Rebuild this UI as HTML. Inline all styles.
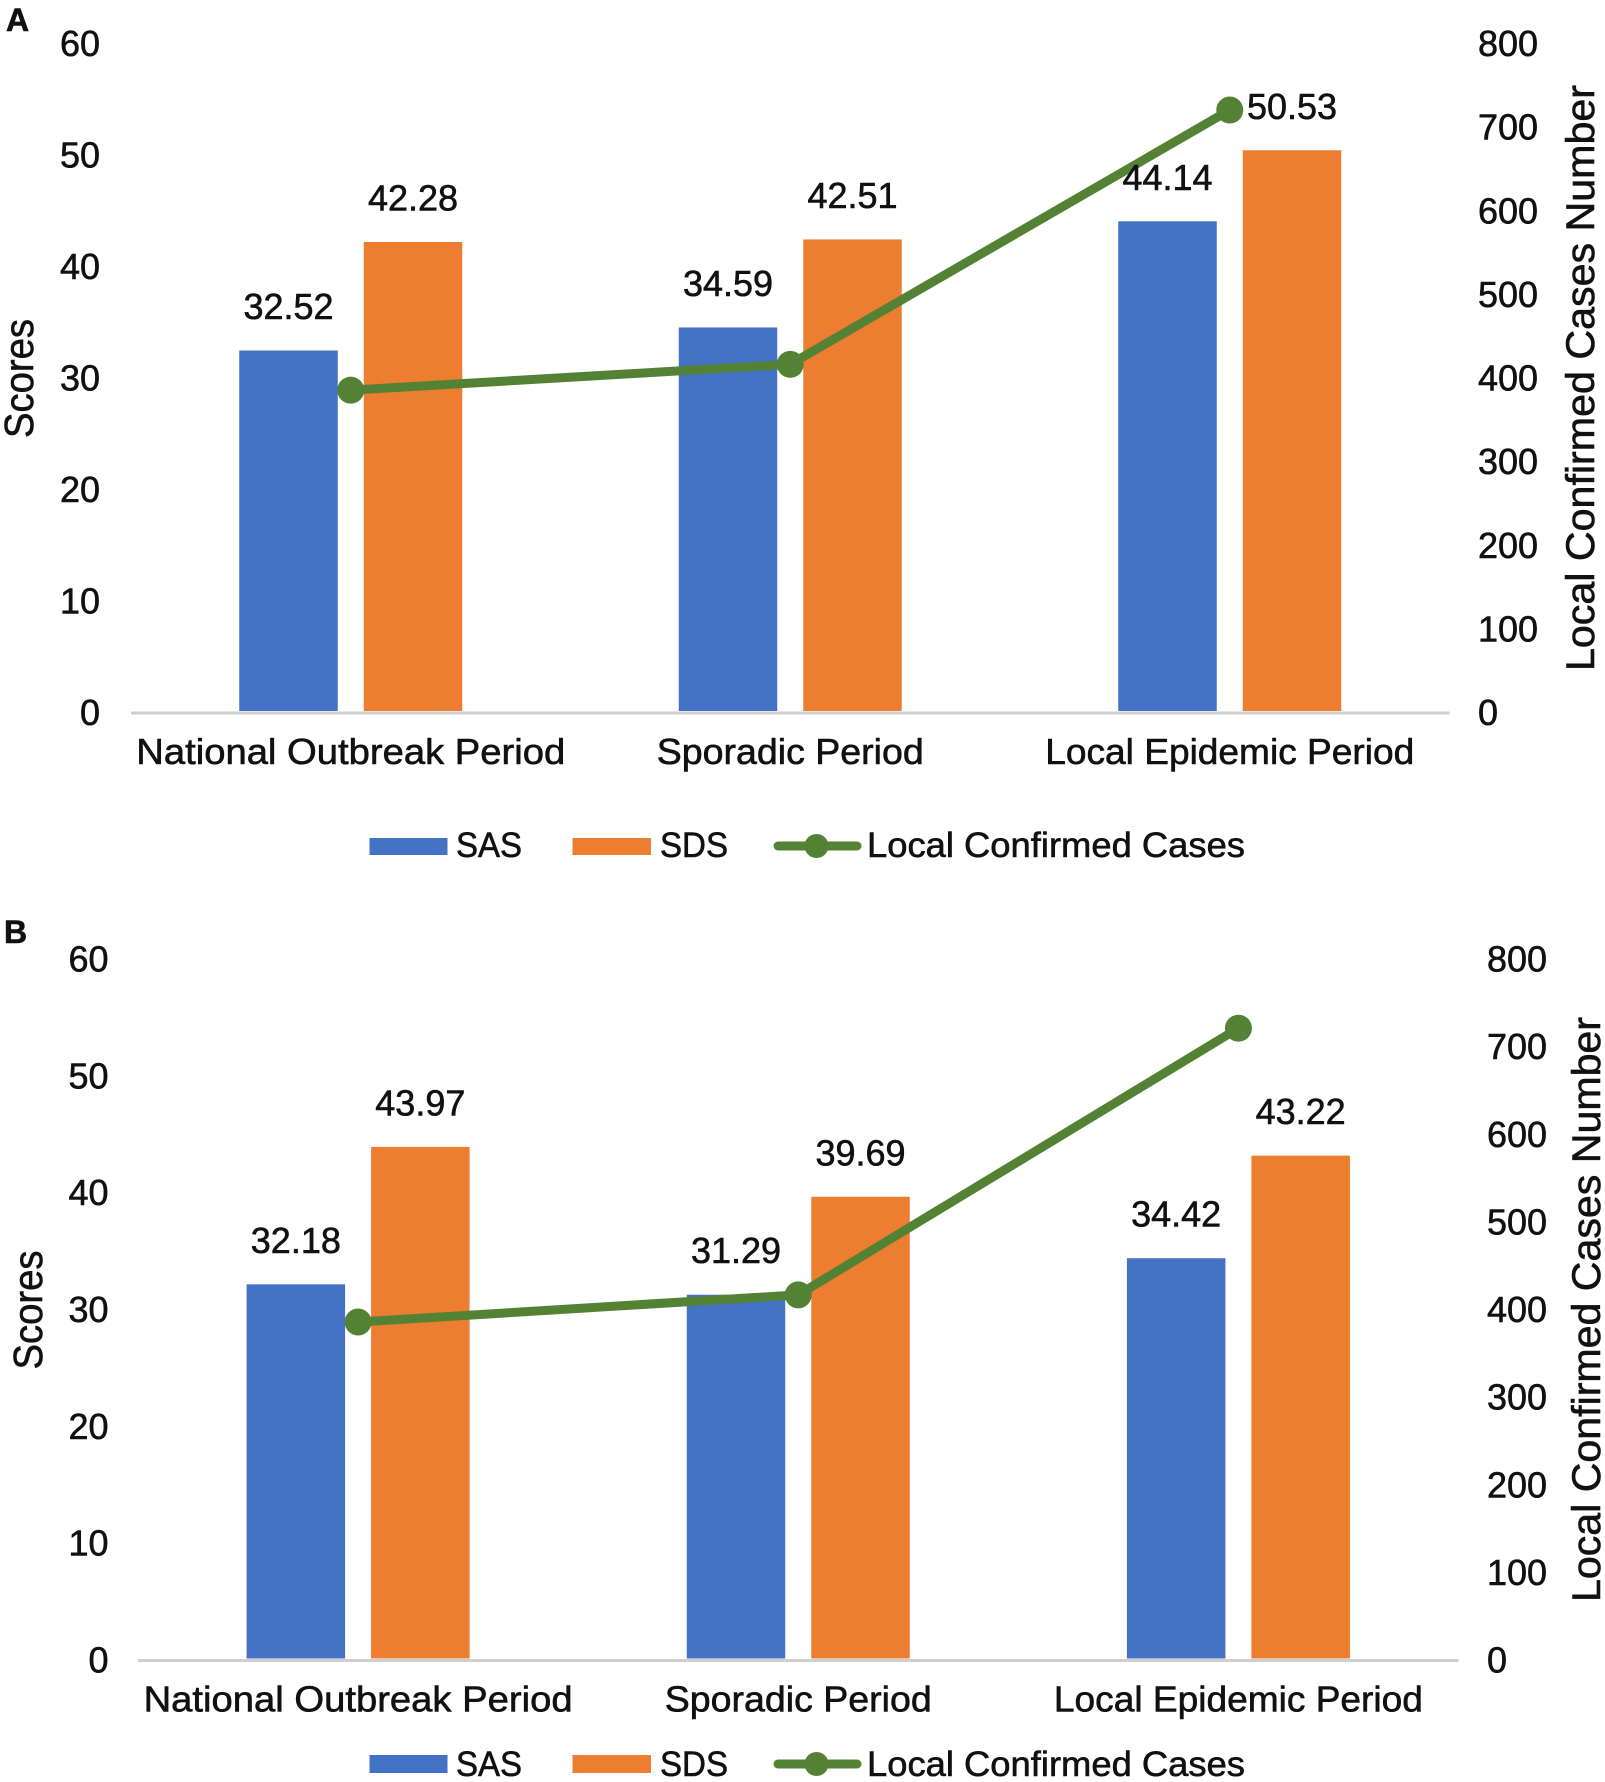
<!DOCTYPE html>
<html lang="en">
<head>
<meta charset="utf-8">
<title>Scores and Local Confirmed Cases by Period</title>
<style>
  html, body { margin: 0; padding: 0; background: #ffffff; width: 1605px; height: 1782px; overflow: hidden; }
  svg { display: block; }
  text { font-family: "Liberation Sans", sans-serif; fill: #111111; stroke: #111111; stroke-width: 0.6px; }
</style>
</head>
<body>
<svg id="figure" xmlns="http://www.w3.org/2000/svg" width="1605" height="1782" viewBox="0 0 1605 1782">
  <rect x="0" y="0" width="1605" height="1782" fill="#ffffff"/>
  <text x="6" y="31" font-size="32" font-weight="bold" fill="#000">A</text>
  <text x="4" y="943" font-size="32" font-weight="bold" fill="#000">B</text>

  <text transform="translate(33 378.5) rotate(-90)" text-anchor="middle" font-size="41" textLength="119" lengthAdjust="spacingAndGlyphs">Scores</text>
  <text transform="translate(1594 378) rotate(-90)" text-anchor="middle" font-size="40" textLength="586" lengthAdjust="spacingAndGlyphs">Local Confirmed Cases Number</text>
  <text transform="translate(42 1310) rotate(-90)" text-anchor="middle" font-size="41" textLength="119" lengthAdjust="spacingAndGlyphs">Scores</text>
  <text transform="translate(1600 1309.5) rotate(-90)" text-anchor="middle" font-size="40" textLength="585" lengthAdjust="spacingAndGlyphs">Local Confirmed Cases Number</text>

  <g>
    <rect x="369.5" y="838" width="78" height="17" fill="#4472C4"/>
    <text x="456" y="857" font-size="35" textLength="66" lengthAdjust="spacingAndGlyphs">SAS</text>
    <rect x="572.5" y="838" width="78.5" height="17" fill="#ED7D31"/>
    <text x="660" y="857" font-size="35" textLength="68" lengthAdjust="spacingAndGlyphs">SDS</text>
    <line x1="778" y1="846" x2="857" y2="846" stroke="#548235" stroke-width="9" stroke-linecap="round"/>
    <circle cx="816.5" cy="846" r="12" fill="#548235"/>
    <text x="867" y="857" font-size="35" textLength="378" lengthAdjust="spacingAndGlyphs">Local Confirmed Cases</text>
  </g>
  <g>
    <rect x="369.5" y="1755" width="78" height="18" fill="#4472C4"/>
    <text x="456" y="1776" font-size="35" textLength="66" lengthAdjust="spacingAndGlyphs">SAS</text>
    <rect x="572.5" y="1755" width="78.5" height="18" fill="#ED7D31"/>
    <text x="660" y="1776" font-size="35" textLength="68" lengthAdjust="spacingAndGlyphs">SDS</text>
    <line x1="778" y1="1764" x2="857" y2="1764" stroke="#548235" stroke-width="9" stroke-linecap="round"/>
    <circle cx="816.5" cy="1764" r="12" fill="#548235"/>
    <text x="867" y="1776" font-size="35" textLength="378" lengthAdjust="spacingAndGlyphs">Local Confirmed Cases</text>
  </g>
</svg>
<script>
// Chart data
const categories = ["National Outbreak Period", "Sporadic Period", "Local Epidemic Period"];
const sasA = [32.52, 34.59, 44.14];
const sdsA = [42.28, 42.51, 50.53];
const casesA = [386, 417, 722];
const sasB = [32.18, 31.29, 34.42];
const sdsB = [43.97, 39.69, 43.22];
const casesB = [386, 417, 722];
const scoreTicks = [0, 10, 20, 30, 40, 50, 60];
const caseTicks = [0, 100, 200, 300, 400, 500, 600, 700, 800];

// Layout (not data)
const NS = "http://www.w3.org/2000/svg";
const svg = document.getElementById("figure");
const scoreMax = 60;
const caseMax = 800;
const barWidth = 98.5;
const barGap = 26;
const categoryLabelLengths = [429, 267, 369];

function el(tag, attrs, parent, content) {
  const node = document.createElementNS(NS, tag);
  for (const k in attrs) node.setAttribute(k, attrs[k]);
  if (content !== undefined) node.textContent = content;
  parent.appendChild(node);
  return node;
}

function drawPanel(prefix, sas, sds, cases, frame) {
  const yScore = v => frame.bottom - (v / scoreMax) * (frame.bottom - frame.top);
  const yCase = v => frame.bottom - (v / caseMax) * (frame.bottom - frame.top);
  const yScoreTick = v => frame.bottom - (v / scoreMax) * (frame.bottom - frame.tickTop);
  const yCaseTick = v => frame.bottom - (v / caseMax) * (frame.bottom - frame.tickTop);
  const band = (frame.right - frame.left) / categories.length;
  const xCat = i => frame.left + band * (i + 0.5);

  const group = el("g", {}, svg);
  
  

  scoreTicks.forEach(t => {
    const label = el("text", { x: frame.leftTickX, y: yScoreTick(t) + 13, "text-anchor": "end", "font-size": 36 }, group, String(t));
    
    
  });

  caseTicks.forEach(t => {
    const label = el("text", { x: frame.rightTickX, y: yCaseTick(t) + 13, "text-anchor": "start", "font-size": 36 }, group, String(t));
    
    
  });

  const valueLabels = [];
  [[sas, "#4472C4", "sas", -1], [sds, "#ED7D31", "sds", 1]].forEach(series => {
    series[0].forEach((v, i) => {
      const cx = xCat(i) + series[3] * (barGap + barWidth) / 2;
      const top = yScore(v);
      const bar = el("rect", { x: cx - barWidth / 2, y: top, width: barWidth, height: frame.bottom - 1 - top, fill: series[1] }, group);
      
      
      valueLabels.push({ x: cx, y: top - 31.5, text: v.toFixed(2), id: series[2] + '-' + (i + 1) });
    });
  });

  const axis = el("line", { x1: frame.left, y1: frame.bottom + 1, x2: frame.right, y2: frame.bottom + 1, stroke: "#cfcfcf", "stroke-width": 3 }, group);
  
  

  categories.forEach((c, i) => {
    const label = el("text", { x: xCat(i), y: frame.bottom + 52, "text-anchor": "middle", "font-size": 36, textLength: categoryLabelLengths[i], lengthAdjust: "spacingAndGlyphs" }, group, c);
    
    
  });

  const pts = cases.map((v, i) => xCat(i) + "," + yCase(v)).join(" ");
  const line = el("polyline", { points: pts, fill: "none", stroke: "#548235", "stroke-width": 9, "stroke-linejoin": "round" }, group);
  
  

  cases.forEach((v, i) => {
    const dot = el("circle", { cx: xCat(i), cy: yCase(v), r: 13.5, fill: "#548235" }, group);
    
    
  });

  valueLabels.forEach(l => {
    const label = el("text", { x: l.x, y: l.y, "text-anchor": "middle", "font-size": 36 }, group, l.text);
    
    
  });
}

drawPanel("panel-a", sasA, sdsA, casesA, { left: 131, right: 1449.5, top: 45, tickTop: 43, bottom: 712, leftTickX: 100, rightTickX: 1478 });
drawPanel("panel-b", sasB, sdsB, casesB, { left: 138, right: 1458.5, top: 960, tickTop: 958.5, bottom: 1659.5, leftTickX: 108.5, rightTickX: 1487 });
</script>
</body>
</html>
